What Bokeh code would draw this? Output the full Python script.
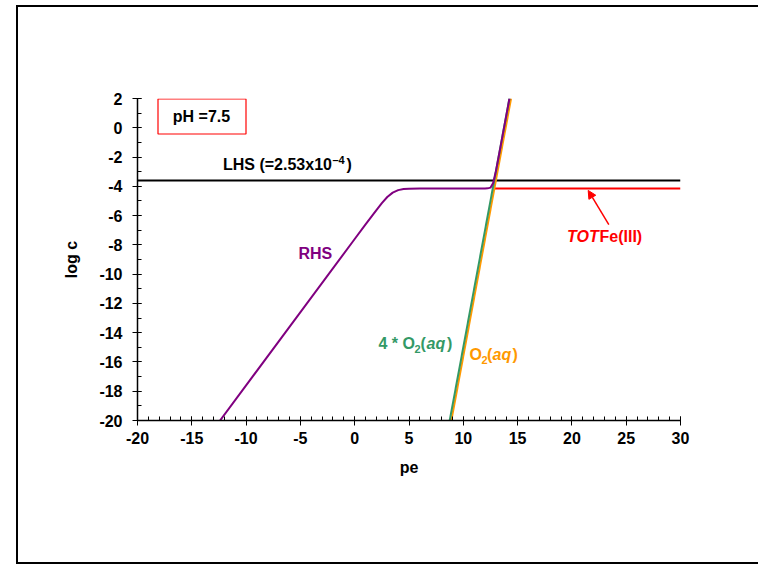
from bokeh.plotting import figure
from bokeh.models import (Range1d, FixedTicker, Label, BoxAnnotation, Arrow, NormalHead,
                          InlineStyleSheet)
from bokeh.embed import file_html
from bokeh.resources import INLINE

# ---------------- data ----------------
x_ticks = [-20, -15, -10, -5, 0, 5, 10, 15, 20, 25, 30]
x_tick_labels = ["-20", "-15", "-10", "-5", "0", "5", "10", "15", "20", "25", "30"]
y_ticks = [2, 0, -2, -4, -6, -8, -10, -12, -14, -16, -18, -20]
y_tick_labels = ["2", "0", "-2", "-4", "-6", "-8", "-10", "-12", "-14", "-16", "-18", "-20"]

lhs_pe = [-20, 30]
lhs_logc = [-3.6, -3.6]

totfe_pe = [12.9, 30]
totfe_logc = [-4.15, -4.15]

o2_pe = [8.9, 14.4]
o2_logc = [-20, 2]

o2x4_pe = [8.75, 14.25]
o2x4_logc = [-20, 2]

rhs_pe = [-12.4, 0, 1, 2, 2.5, 3, 3.5, 4, 4.5, 5, 6, 12, 12.25, 12.5, 12.75, 13, 13.25, 13.5, 14.25]
rhs_logc = [-20, -7.6, -6.6, -5.62, -5.15, -4.73, -4.43, -4.26, -4.19, -4.16, -4.15, -4.15,
            -4.14, -4.09, -3.77, -2.97, -2.0, -1.0, 2.0]

arrow_tail = (23.4, -6.62)
arrow_head = (21.5, -4.28)

# ---------------- layout helpers ----------------
W, H = 758, 565
FL, FR, FT, FB = 137, 680, 98, 420
XMIN, XMAX, YMIN, YMAX = -20, 30, -20, 2


def px2x(px):
    return XMIN + (px - FL) * (XMAX - XMIN) / (FR - FL)


def py2y(py):
    return YMAX - (py - FT) * (YMAX - YMIN) / (FB - FT)


FONT = "Liberation Sans"
PURPLE = "#800080"
GREEN = "#339966"
ORANGE = "#FF9900"
RED = "#FF0000"

frame_css = InlineStyleSheet(css="""
:host { position: relative; }
:host::after {
  content: "";
  position: absolute;
  left: 16px; top: 5px;
  width: 742px; height: 559px;
  box-sizing: border-box;
  border-left: 2px solid #000;
  border-top: 2px solid #000;
  border-bottom: 2px solid #000;
  pointer-events: none;
}
""")

p = figure(width=W, height=H, output_backend="svg", toolbar_location=None,
           x_range=Range1d(XMIN, XMAX), y_range=Range1d(YMIN, YMAX),
           min_border_left=FL, min_border_right=W - FR, min_border_top=FT,
           min_border_bottom=H - FB, stylesheets=[frame_css])
p.outline_line_color = None
p.xgrid.visible = False
p.ygrid.visible = False
p.background_fill_color = "white"
p.border_fill_color = "white"

for ax, ticks, labels in ((p.xaxis[0], x_ticks, x_tick_labels), (p.yaxis[0], y_ticks, y_tick_labels)):
    ax.major_label_overrides = {t: l for t, l in zip(ticks, labels)}
    ax.axis_line_color = "black"
    ax.axis_line_width = 1.5
    ax.major_tick_line_color = "black"
    ax.minor_tick_line_color = "black"
    ax.major_tick_in = 4
    ax.major_tick_out = 5
    ax.minor_tick_in = 4
    ax.minor_tick_out = 0
    ax.major_label_text_font = FONT
    ax.major_label_text_font_style = "bold"
    ax.major_label_text_font_size = "16px"
    ax.major_label_text_color = "black"
    ax.axis_label_text_font = FONT
    ax.axis_label_text_font_style = "bold"
    ax.axis_label_text_font_size = "16px"
    ax.axis_label_text_color = "black"

p.xaxis[0].ticker = FixedTicker(ticks=x_ticks, minor_ticks=list(range(-20, 31)))
p.yaxis[0].ticker = FixedTicker(ticks=y_ticks, minor_ticks=list(range(-20, 3)))
p.xaxis[0].axis_label = "pe"
p.yaxis[0].axis_label = "log c"
p.xaxis[0].major_label_standoff = 6
p.yaxis[0].major_label_standoff = 10
p.xaxis[0].axis_label_standoff = 12
p.yaxis[0].axis_label_standoff = 16

# ---------------- lines ----------------
p.line(lhs_pe, lhs_logc, line_color="black", line_width=2)
p.line(totfe_pe, totfe_logc, line_color=RED, line_width=2)
p.line(o2_pe, o2_logc, line_color=ORANGE, line_width=2)
p.line(o2x4_pe, o2x4_logc, line_color=GREEN, line_width=2)
p.line(rhs_pe, rhs_logc, line_color=PURPLE, line_width=2)

p.add_layout(Arrow(end=NormalHead(size=8, fill_color=RED, line_color=RED, line_width=1),
                   x_start=arrow_tail[0], y_start=arrow_tail[1],
                   x_end=arrow_head[0], y_end=arrow_head[1],
                   line_color=RED, line_width=1.5))

# ---------------- texts ----------------
def lab(text, px, py, color="black", style="bold", align="left", size="16px"):
    p.add_layout(Label(x=px2x(px), y=py2y(py), text=text, text_color=color,
                       text_font=FONT, text_font_style=style, text_font_size=size,
                       text_align=align, text_baseline="middle"))

# pH box
p.add_layout(BoxAnnotation(left=px2x(157.5), right=px2x(245.5), top=py2y(98.5), bottom=py2y(133.5),
                           fill_alpha=0, line_color=RED, line_alpha=1.0, line_width=1.2))
lab("pH =7.5", 201, 116, align="center")

lab("LHS (=2.53x10", 222.5, 164)
lab("\u20134", 332, 159, size="11px")
lab(")", 346, 164)

lab("RHS", 298, 253, color=PURPLE)

lab("4 * O", 378, 343, color=GREEN)
lab("2", 414, 348, color=GREEN, size="11px")
lab("(", 420, 343, color=GREEN)
lab("aq", 426, 343, color=GREEN, style="bold italic")
lab(")", 446.5, 343, color=GREEN)

lab("O", 469, 354, color=ORANGE)
lab("2", 481, 359, color=ORANGE, size="11px")
lab("(", 486.5, 354, color=ORANGE)
lab("aq", 492, 354, color=ORANGE, style="bold italic")
lab(")", 512, 354, color=ORANGE)

lab("TOT", 566.5, 236, color=RED, style="bold italic")
lab("Fe(III)", 599, 236, color=RED)

open("out.html", "w").write(file_html(p, INLINE))
